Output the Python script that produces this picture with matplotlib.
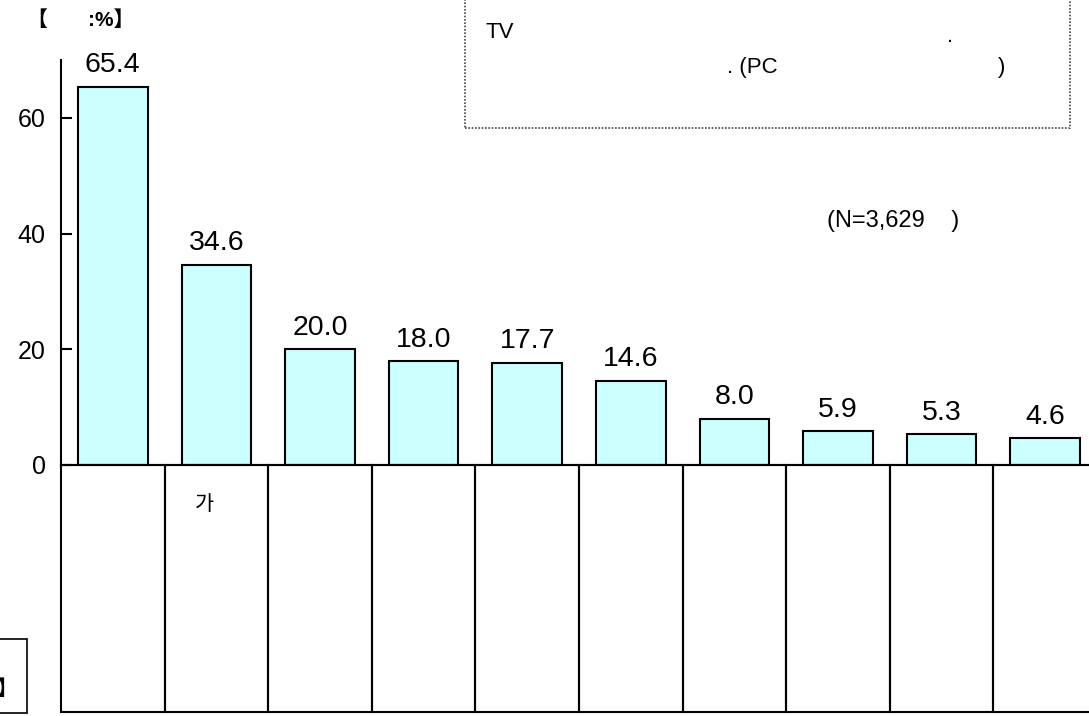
import matplotlib
matplotlib.use("Agg")
import matplotlib.pyplot as plt
from matplotlib.patches import Rectangle

plt.rcParams['font.family'] = ['Liberation Sans', 'Noto Sans CJK KR', 'DejaVu Sans']

values = [65.4, 34.6, 20.0, 18.0, 17.7, 14.6, 8.0, 5.9, 5.3, 4.6]
cell_labels = ['', '가', '', '', '', '', '', '', '', '']
yticks = [0, 20, 40, 60]

W, H = 1089, 716
fig = plt.figure(figsize=(W / 100, H / 100), dpi=100)


def box(x0, y0, x1, y1):
    # pixel box (top-left origin) -> figure fraction rect
    return [x0 / W, 1 - y1 / H, (x1 - x0) / W, (y1 - y0) / H]


# bar area
ax = fig.add_axes(box(61, 60, 1097, 465))
n = len(values)
xs = [i + 0.5 for i in range(n)]
ax.bar(xs, values, width=0.67, color='#CCFFFF', edgecolor='black', linewidth=1.5)
for x, v in zip(xs, values):
    ax.annotate(f'{v:.1f}', (x, v), xytext=(0, 6), textcoords='offset points',
                ha='center', va='bottom', fontsize=20.5)
ax.set_xlim(0, n)
ax.set_ylim(0, 70)
ax.set_yticks(yticks)
ax.set_xticks([])
ax.tick_params(axis='y', direction='in', length=8, width=1.5, pad=11, labelsize=18)
for s in ['top', 'right']:
    ax.spines[s].set_visible(False)
ax.spines['left'].set_linewidth(1.5)
ax.spines['bottom'].set_linewidth(1.5)

# category cells under the bars
tab = fig.add_axes(box(61, 465, 1097, 712))
tab.set_xlim(0, n)
tab.set_ylim(0, 1)
tab.axis('off')
for i, lab in enumerate(cell_labels):
    tab.add_patch(Rectangle((i, 0), 1, 1, fill=False, edgecolor='black',
                            linewidth=1.5, clip_on=False))
    if lab:
        tab.text(i + 0.38, 0.84, lab, ha='center', va='center', fontsize=15)

# unit label
fig.text(26 / W, 1 - 20 / H, '【', fontsize=15, fontweight='bold', va='center', ha='left')
fig.text(88 / W, 1 - 20 / H, ':%】', fontsize=15, fontweight='bold', va='center', ha='left')

# question box
fig.patches.append(Rectangle((465 / W, 1 - 128 / H), (1070 - 465) / W, 130 / H,
                             fill=False, edgecolor='#444444', linestyle=(0, (1, 1)),
                             linewidth=1.2, transform=fig.transFigure))
fig.text(486 / W, 1 - 33 / H, 'TV', fontsize=16, va='center')
fig.text(947 / W, 1 - 37 / H, '.', fontsize=16, va='center')
fig.text(727 / W, 1 - 67 / H, '. (PC', fontsize=16, va='center')
fig.text(998 / W, 1 - 67 / H, ')', fontsize=16, va='center')

fig.text(827 / W, 1 - 221 / H, '(N=3,629    )', fontsize=17, va='center')

# small box at lower left
fig.patches.append(Rectangle((-2 / W, 1 - 713 / H), 29 / W, (713 - 639) / H,
                             fill=False, edgecolor='black', linewidth=1.2,
                             transform=fig.transFigure))
fig.text(-4 / W, 1 - 689 / H, '】', fontsize=15, fontweight='bold', va='center', ha='left')

fig.savefig('out.png', dpi=100)
